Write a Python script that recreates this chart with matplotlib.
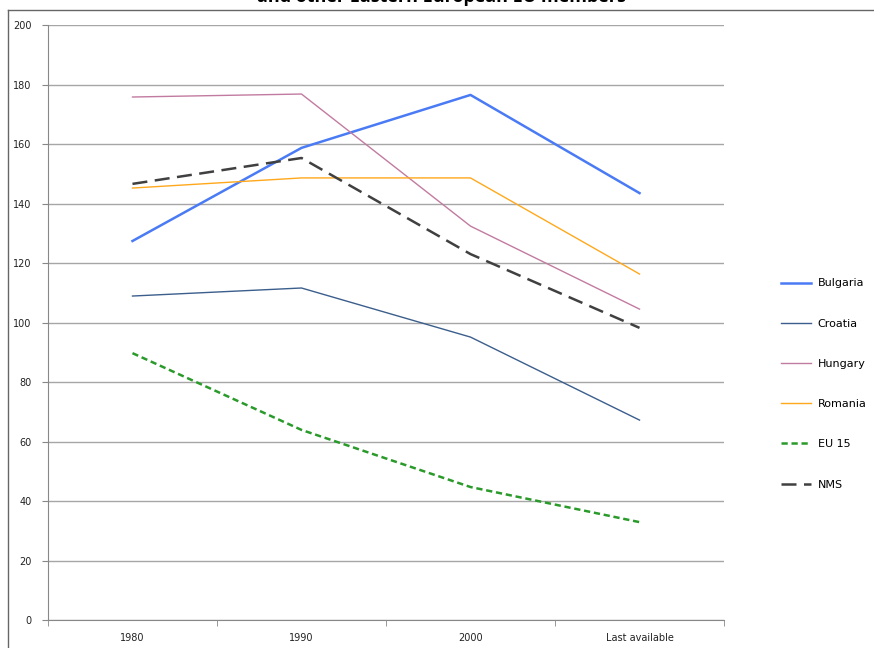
import matplotlib.pyplot as plt
from matplotlib.lines import Line2D

# categories and series values
periods = ['1980', '1990', '2000', 'Last available']
bulgaria = [127.4, 158.7, 176.5, 143.5]
croatia = [108.9, 111.6, 95.1, 67.2]
hungary = [175.8, 176.8, 132.4, 104.5]
romania = [145.2, 148.6, 148.6, 116.3]
eu15 = [89.7, 63.9, 44.7, 32.9]
nms = [146.6, 155.3, 123.0, 98.2]

fig = plt.figure(figsize=(8.74, 6.48), dpi=100)
ax = fig.add_axes([0.0549, 0.0432, 0.7735, 0.9182])

x = range(len(periods))
ax.plot(x, bulgaria, color='#4A7BF5', lw=1.8, label='Bulgaria')
ax.plot(x, croatia, color='#3B5E8C', lw=1.0, label='Croatia')
ax.plot(x, hungary, color='#C27BA0', lw=1.0, label='Hungary')
ax.plot(x, romania, color='#FFA81C', lw=1.0, label='Romania')
ax.plot(x, eu15, color='#2A9A2A', lw=1.8, ls=(0, (2.5, 1.5)), label='EU 15')
ax.plot(x, nms, color='#404040', lw=1.8, ls=(0, (6, 3)), label='NMS')

# axes styling, Excel-like
ax.set_xlim(-0.5, 3.5)
ax.set_ylim(0, 200)
ax.set_yticks(range(0, 201, 20))
ax.yaxis.grid(True, color='#A6A6A6', lw=1)
ax.set_axisbelow(True)
ax.set_xticks(x)
ax.set_xticklabels(periods)
ax.set_xticks([-0.5, 0.5, 1.5, 2.5, 3.5], minor=True)
ax.tick_params(axis='x', which='major', length=0, pad=9, labelsize=7, labelcolor='#222222')
ax.tick_params(axis='x', which='minor', length=4, color='#888888', direction='out')
ax.tick_params(axis='y', length=4, color='#888888', labelsize=7, labelcolor='#222222', pad=8)
for side in ['top', 'right']:
    ax.spines[side].set_visible(False)
for side in ['left', 'bottom']:
    ax.spines[side].set_color('#888888')

# legend on the right
fig.legend(loc='center left', bbox_to_anchor=(781 / 874, 1 - 384 / 648), frameon=False,
           fontsize=8, handlelength=2.7, handletextpad=0.6, labelspacing=2.72,
           borderpad=0, borderaxespad=0)

# chart border (only top and left are in frame) and clipped title
fig.lines.append(Line2D([8 / 874, 1], [1 - 10 / 648] * 2, transform=fig.transFigure,
                        color='#666666', lw=1))
fig.lines.append(Line2D([8 / 874] * 2, [0, 1 - 10 / 648], transform=fig.transFigure,
                        color='#666666', lw=1))
fig.text(0.505, 1.004, 'and other Eastern European EU members', ha='center', va='center',
         fontsize=13, fontweight='bold', family='Open Sans')

fig.savefig('out.png', dpi=100)
